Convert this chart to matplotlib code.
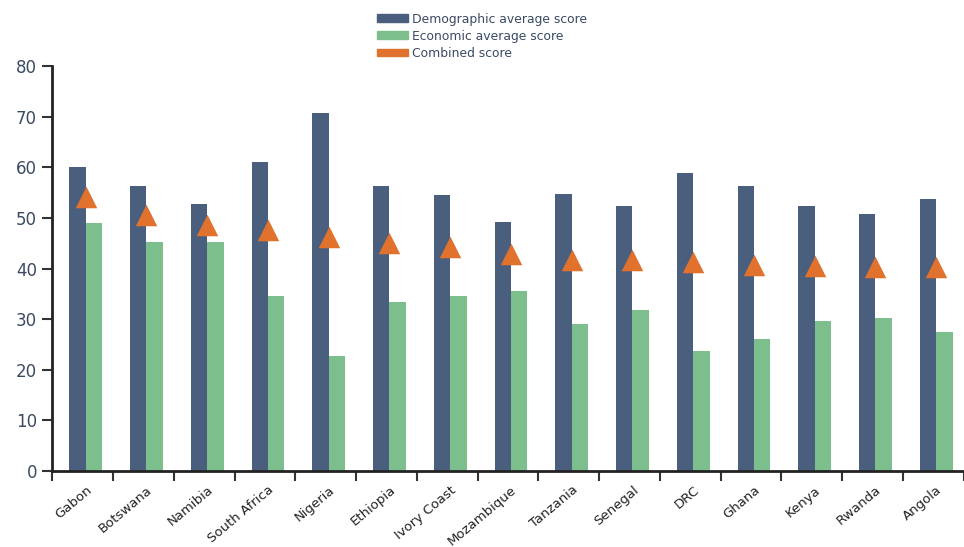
import matplotlib
matplotlib.use("Agg")
import matplotlib.pyplot as plt
import numpy as np
from matplotlib.patches import Patch

countries = ["Gabon", "Botswana", "Namibia", "South Africa", "Nigeria", "Ethiopia",
             "Ivory Coast", "Mozambique", "Tanzania", "Senegal", "DRC", "Ghana",
             "Kenya", "Rwanda", "Angola"]
demographic = [60.0, 56.3, 52.8, 61.0, 70.8, 56.3, 54.5, 49.2, 54.8, 52.3, 58.8, 56.3, 52.3, 50.8, 53.8]
economic = [49.0, 45.2, 45.2, 34.6, 22.8, 33.4, 34.6, 35.5, 29.0, 31.8, 23.8, 26.0, 29.6, 30.3, 27.4]
combined = [54.2, 50.5, 48.7, 47.6, 46.3, 45.0, 44.2, 42.8, 41.7, 41.6, 41.3, 40.7, 40.6, 40.3, 40.3]
yticks = [0, 10, 20, 30, 40, 50, 60, 70, 80]

c_dem = "#4a5f7e"
c_eco = "#7dbf8c"
c_comb = "#e0722e"
c_text = "#3b4a63"

plt.rcParams['font.family'] = ['DejaVu Sans']

fig = plt.figure(figsize=(9.64, 5.47), dpi=100)
ax = fig.add_axes([0.0543, 0.139, 0.9452, 0.740])

x = np.arange(len(countries))
shift = 0.05
w = 0.27
ax.bar(x + shift - w / 2, demographic, width=w, color=c_dem, label="Demographic average score")
ax.bar(x + shift + w / 2, economic, width=w, color=c_eco, label="Economic average score")
ax.scatter(x + shift, combined, marker="^", s=240, color=c_comb, zorder=3, linewidths=0)

ax.set_xlim(-0.5, len(countries) - 0.5)
ax.set_ylim(0, 80)
ax.set_yticks(yticks)
ax.set_yticklabels([str(v) for v in yticks], fontsize=12, color=c_text)

ax.set_xticks(x + shift)
ax.set_xticklabels(countries, rotation=40, ha="right", rotation_mode="anchor",
                   fontsize=9.5, color="#222222")
ax.set_xticks(np.arange(-0.5, len(countries), 1.0), minor=True)
ax.tick_params(axis="x", which="major", length=0, pad=9)
ax.tick_params(axis="x", which="minor", length=7, width=1.5, color="#333333")
ax.tick_params(axis="y", length=7, width=1.5, color="#333333", pad=4)

for s in ["top", "right"]:
    ax.spines[s].set_visible(False)
for s in ["left", "bottom"]:
    ax.spines[s].set_linewidth(2)
    ax.spines[s].set_color("#222222")

handles = [Patch(color=c_dem, label="Demographic average score"),
           Patch(color=c_eco, label="Economic average score"),
           Patch(color=c_comb, label="Combined score")]
fig.legend(handles=handles, loc="upper left", bbox_to_anchor=(0.381, 0.995),
           frameon=False, fontsize=8.9, handlelength=2.5, handleheight=0.6,
           labelspacing=0.33, handletextpad=0.35, labelcolor=c_text,
           borderpad=0.3)

fig.savefig("out.png", dpi=100)
